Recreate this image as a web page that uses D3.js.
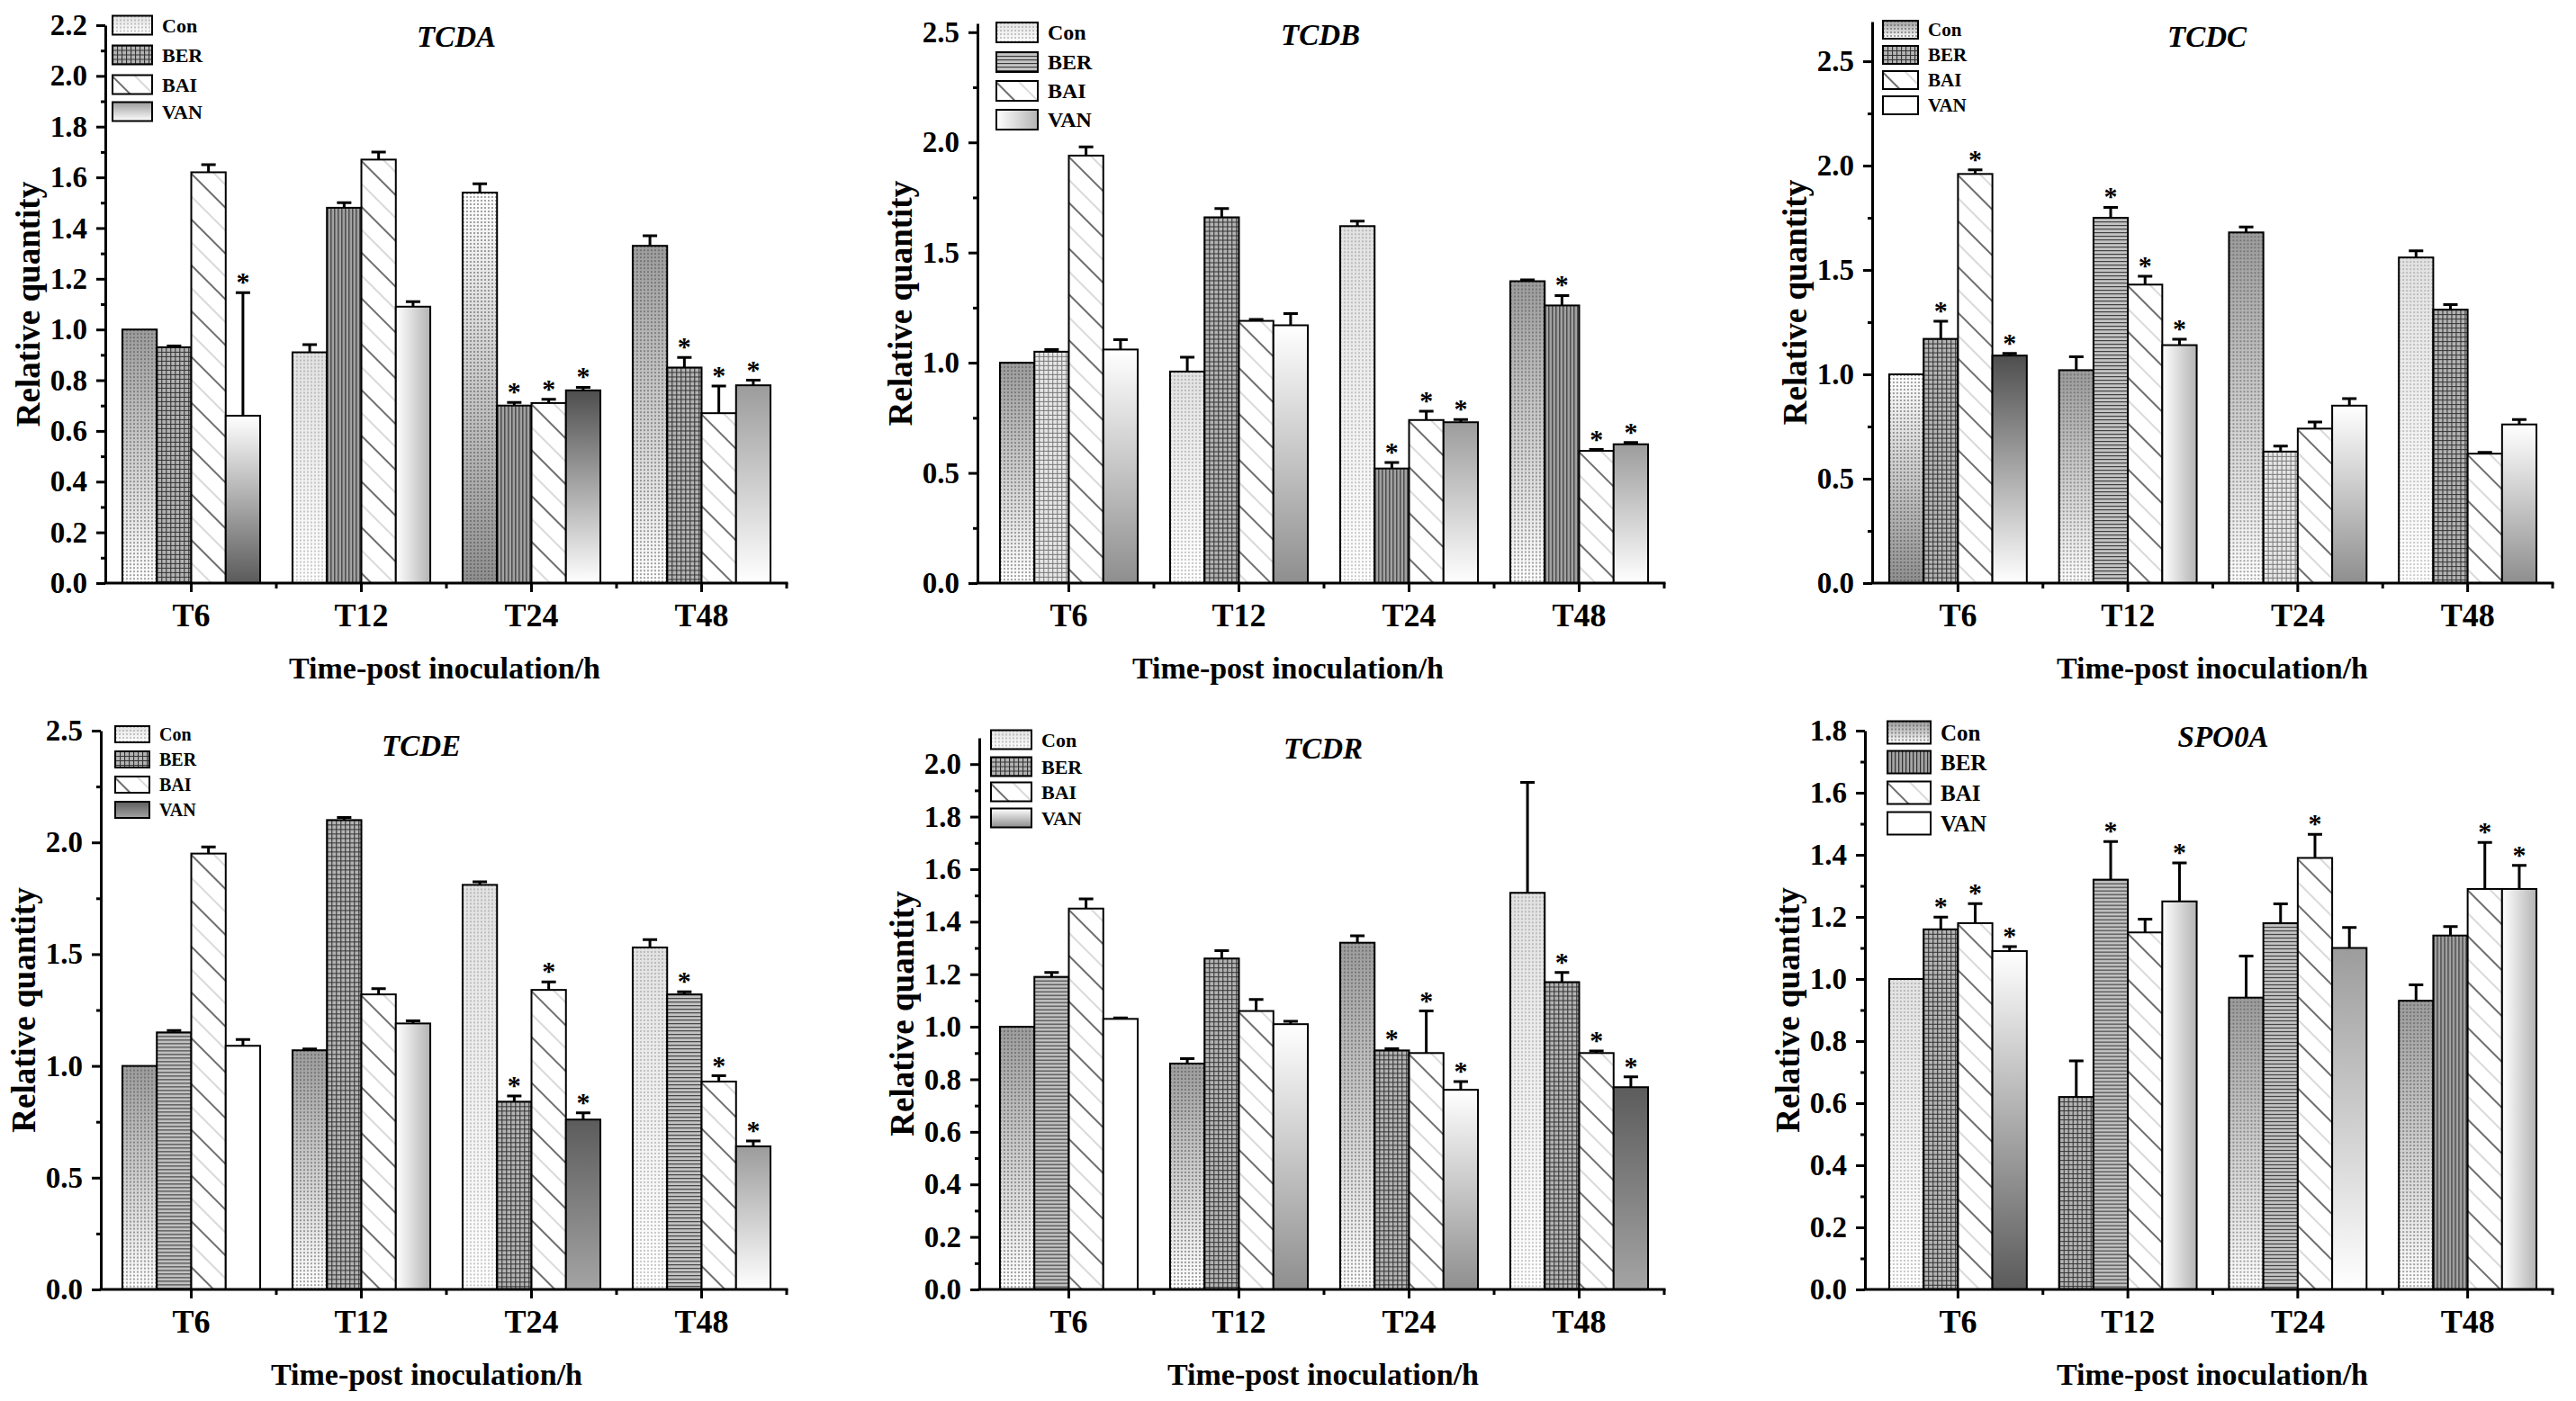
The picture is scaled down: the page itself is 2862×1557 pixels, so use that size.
<!DOCTYPE html>
<html>
<head>
<meta charset="utf-8">
<script src="https://cdn.jsdelivr.net/npm/d3@7"></script>
<style>
body { margin: 0; background: #fff; }
svg text { font-family: "Liberation Serif", "Times New Roman", serif; font-weight: bold; fill: #000; }
</style>
</head>
<body>
<svg id="fig" width="2862" height="1557"></svg>
<script>
var times = ["T6", "T12", "T24", "T48"];
var groups = ["Con", "BER", "BAI", "VAN"];
var genes = ["TCDA", "TCDB", "TCDC", "TCDE", "TCDR", "SPO0A"];

// rows = time points, columns = Con, BER, BAI, VAN
var tcdaMean = [[1.00, 0.93, 1.62, 0.66], [0.91, 1.48, 1.67, 1.09], [1.54, 0.70, 0.71, 0.76], [1.33, 0.85, 0.67, 0.78]];
var tcdaErr  = [[0, 0.005, 0.03, 0.485], [0.03, 0.02, 0.03, 0.02], [0.035, 0.012, 0.015, 0.012], [0.04, 0.04, 0.107, 0.02]];
var tcdaStar = [[0, 0, 0, 1], [0, 0, 0, 0], [0, 1, 1, 1], [0, 1, 1, 1]];

var tcdbMean = [[1.00, 1.05, 1.94, 1.06], [0.96, 1.66, 1.19, 1.17], [1.62, 0.52, 0.74, 0.73], [1.37, 1.26, 0.60, 0.63]];
var tcdbErr  = [[0, 0.01, 0.04, 0.045], [0.065, 0.04, 0.006, 0.053], [0.023, 0.027, 0.04, 0.012], [0.006, 0.045, 0.006, 0.008]];
var tcdbStar = [[0, 0, 0, 0], [0, 0, 0, 0], [0, 1, 1, 1], [0, 1, 1, 1]];

var tcdcMean = [[1.00, 1.17, 1.96, 1.09], [1.02, 1.75, 1.43, 1.14], [1.68, 0.63, 0.74, 0.85], [1.56, 1.31, 0.62, 0.76]];
var tcdcErr  = [[0, 0.085, 0.02, 0.01], [0.064, 0.05, 0.04, 0.028], [0.026, 0.026, 0.032, 0.034], [0.032, 0.024, 0.006, 0.024]];
var tcdcStar = [[0, 1, 1, 1], [0, 1, 1, 1], [0, 0, 0, 0], [0, 0, 0, 0]];

var tcdeMean = [[1.00, 1.15, 1.95, 1.09], [1.07, 2.10, 1.32, 1.19], [1.81, 0.84, 1.34, 0.76], [1.53, 1.32, 0.93, 0.64]];
var tcdeErr  = [[0, 0.008, 0.03, 0.028], [0.006, 0.012, 0.026, 0.012], [0.014, 0.026, 0.036, 0.03], [0.035, 0.012, 0.026, 0.024]];
var tcdeStar = [[0, 0, 0, 0], [0, 0, 0, 0], [0, 1, 1, 1], [0, 1, 1, 1]];

var tcdrMean = [[1.00, 1.19, 1.45, 1.03], [0.86, 1.26, 1.06, 1.01], [1.32, 0.91, 0.90, 0.76], [1.51, 1.17, 0.90, 0.77]];
var tcdrErr  = [[0, 0.017, 0.037, 0.004], [0.019, 0.03, 0.044, 0.011], [0.026, 0.006, 0.16, 0.031], [0.42, 0.037, 0.008, 0.039]];
var tcdrStar = [[0, 0, 0, 0], [0, 0, 0, 0], [0, 1, 1, 1], [0, 1, 1, 1]];

var spo0aMean = [[1.00, 1.16, 1.18, 1.09], [0.62, 1.32, 1.15, 1.25], [0.94, 1.18, 1.39, 1.10], [0.93, 1.14, 1.29, 1.29]];
var spo0aErr  = [[0, 0.039, 0.063, 0.014], [0.116, 0.123, 0.043, 0.124], [0.134, 0.062, 0.076, 0.066], [0.051, 0.029, 0.15, 0.076]];
var spo0aStar = [[0, 1, 1, 1], [0, 1, 0, 1], [0, 0, 1, 0], [0, 0, 1, 1]];

var tcdaTicks = [0, 0.2, 0.4, 0.6, 0.8, 1.0, 1.2, 1.4, 1.6, 1.8, 2.0, 2.2];
var halfTicks = [0, 0.5, 1.0, 1.5, 2.0, 2.5];
var tcdrTicks = [0, 0.2, 0.4, 0.6, 0.8, 1.0, 1.2, 1.4, 1.6, 1.8, 2.0];
var spo0aTicks = [0, 0.2, 0.4, 0.6, 0.8, 1.0, 1.2, 1.4, 1.6, 1.8];

var means = [tcdaMean, tcdbMean, tcdcMean, tcdeMean, tcdrMean, spo0aMean];
var errs = [tcdaErr, tcdbErr, tcdcErr, tcdeErr, tcdrErr, spo0aErr];
var stars = [tcdaStar, tcdbStar, tcdcStar, tcdeStar, tcdrStar, spo0aStar];
var ticks = [tcdaTicks, halfTicks, halfTicks, halfTicks, tcdrTicks, spo0aTicks];
var yMax = [2.2, 2.54, 2.69, 2.5, 2.1, 1.8];

// page layout of each panel (pixels)
var layout = [
    {axisX: 117,  band: [118, 874],   zero: 648,  top: 28,  title: [507, 52],   xTitle: 494,  legend: {x: 125,  w: 44, h: 21, rows: [28, 61, 94, 124],     fs: 22}},
    {axisX: 1086, band: [1093, 1849], zero: 648,  top: 26,  title: [1467, 50],  xTitle: 1431, legend: {x: 1107, w: 46, h: 22, rows: [36, 69, 101, 133],    fs: 24}},
    {axisX: 2080, band: [2081, 2836], zero: 648,  top: 24,  title: [2452, 52],  xTitle: 2458, legend: {x: 2092, w: 39, h: 20, rows: [33, 61, 89, 117],     fs: 21}},
    {axisX: 112,  band: [118, 874],   zero: 1433, top: 812, title: [468, 840],  xTitle: 474,  legend: {x: 128,  w: 38, h: 18, rows: [816, 844, 872, 900],  fs: 20}},
    {axisX: 1088, band: [1093, 1849], zero: 1433, top: 820, title: [1470, 843], xTitle: 1470, legend: {x: 1101, w: 45, h: 21, rows: [822, 852, 880, 909],  fs: 22}},
    {axisX: 2072, band: [2081, 2836], zero: 1433, top: 812, title: [2470, 830], xTitle: 2458, legend: {x: 2097, w: 48, h: 25, rows: [814, 847, 881, 915],  fs: 25}}
];

// fill of every bar (rows = time points) and of the legend swatches
var barFills = [
    [["dotsG", "gridD", "hatch", "gradDownDark"], ["dotsL", "vlines", "hatch", "gradH"], ["dotsUp", "vlines", "hatch", "gradDark"], ["dotsG", "gridD", "hatch", "gradUp"]],
    [["dotsG", "gridL", "hatch", "gradDown"], ["dotsL", "gridD", "hatch", "gradDown"], ["dotsL", "vlines", "hatch", "gradUp"], ["dotsG", "vlines", "hatch", "gradUp"]],
    [["dotsUp", "gridD", "hatch", "gradDark"], ["dotsG", "hlines", "hatch", "gradH"], ["dotsG", "gridL", "hatch", "gradDown"], ["dotsL", "gridD", "hatch", "gradDown"]],
    [["dotsG", "hlines", "hatch", "white"], ["dotsG", "gridD", "hatch", "gradH"], ["dotsL", "gridD", "hatch", "darkGrad"], ["dotsL", "hlines", "hatch", "gradUp"]],
    [["dotsG", "hlines", "hatch", "white"], ["dotsG", "gridD", "hatch", "gradDown"], ["dotsG", "gridD", "hatch", "gradDown"], ["dotsL", "gridD", "hatch", "darkGrad"]],
    [["dotsL", "gridD", "hatch", "gradDownDark"], ["gridD", "hlines", "hatch", "gradH"], ["dotsG", "hlines", "hatch", "gradUp"], ["dotsG", "vlines", "hatch", "gradH"]]
];
var legendFills = [
    ["dotsL", "gridD", "hatch", "gradUp"],
    ["dotsL", "hlines", "hatch", "gradH"],
    ["dotsG", "gridD", "hatch", "white"],
    ["dotsL", "gridD", "hatch", "darkGrad"],
    ["dotsL", "gridD", "hatch", "gradDown"],
    ["dotsG", "vlines", "hatch", "white"]
];

var svg = d3.select("#fig");
svg.append("rect").attr("width", 2862).attr("height", 1557).attr("fill", "#fff");
var defs = svg.append("defs");

function addGrad(id, from, to, horizontal) {
    var gr = defs.append("linearGradient").attr("id", id)
        .attr("x1", 0).attr("y1", 0)
        .attr("x2", horizontal ? 1 : 0).attr("y2", horizontal ? 0 : 1);
    gr.append("stop").attr("offset", "0%").attr("stop-color", from);
    gr.append("stop").attr("offset", "100%").attr("stop-color", to);
}
addGrad("gUp", "#9c9c9c", "#ffffff");
addGrad("gDown", "#ffffff", "#8e8e8e");
addGrad("gDownDark", "#ffffff", "#5a5a5a");
addGrad("gDark", "#4e4e4e", "#ffffff");
addGrad("gDarkAll", "#5c5c5c", "#a4a4a4");
addGrad("gH", "#ffffff", "#b4b4b4", true);
addGrad("gLight", "#e2e2e2", "#ffffff");

function addPattern(id, w, h, transform) {
    var p = defs.append("pattern").attr("id", id)
        .attr("patternUnits", "userSpaceOnUse")
        .attr("width", w).attr("height", h);
    if (transform) p.attr("patternTransform", transform);
    return p;
}
addPattern("pDots", 4, 4).append("rect").attr("width", 2).attr("height", 2).attr("fill", "#4a4a4a").attr("opacity", 0.5);
addPattern("pDotsL", 4, 4).append("rect").attr("width", 2).attr("height", 2).attr("fill", "#8a8a8a").attr("opacity", 0.45);
addPattern("pGrid", 5, 5).append("path").attr("d", "M0,0.5H5M0.5,0V5").attr("stroke", "#333").attr("stroke-width", 1.2);
addPattern("pGridL", 5, 5).append("path").attr("d", "M0,0.5H5M0.5,0V5").attr("stroke", "#777").attr("stroke-width", 1);
addPattern("pHLines", 4, 4).append("path").attr("d", "M0,0.5H4").attr("stroke", "#3a3a3a").attr("stroke-width", 1.3);
addPattern("pVLines", 4, 4).append("path").attr("d", "M0.5,0V4").attr("stroke", "#333").attr("stroke-width", 1.5);
var hatch = addPattern("pHatch", 60, 36, "rotate(45)");
hatch.append("path").attr("d", "M0,1H60").attr("stroke", "#6e6e6e").attr("stroke-width", 1.8);
hatch.append("path").attr("d", "M0,19H60").attr("stroke", "#cccccc").attr("stroke-width", 1.4);

// base fill + optional texture on top
var fillStyles = {
    dotsL: ["url(#gLight)", "url(#pDotsL)"],
    dotsG: ["url(#gUp)", "url(#pDots)"],
    dotsUp: ["url(#gDown)", "url(#pDots)"],
    gridD: ["#b4b4b4", "url(#pGrid)"],
    gridL: ["#e6e6e6", "url(#pGridL)"],
    hlines: ["#c4c4c4", "url(#pHLines)"],
    vlines: ["#a4a4a4", "url(#pVLines)"],
    hatch: ["#ffffff", "url(#pHatch)"],
    gradDown: ["url(#gDown)", null],
    gradDownDark: ["url(#gDownDark)", null],
    gradUp: ["url(#gUp)", null],
    gradDark: ["url(#gDark)", null],
    gradH: ["url(#gH)", null],
    darkGrad: ["url(#gDarkAll)", null],
    white: ["#ffffff", null]
};

function paintBox(sel, w, h, styleKey) {
    sel.append("rect").attr("width", w).attr("height", h).attr("fill", d => fillStyles[styleKey(d)][0]);
    sel.filter(d => fillStyles[styleKey(d)][1])
        .append("rect").attr("width", w).attr("height", h).attr("fill", d => fillStyles[styleKey(d)][1]);
    sel.append("rect").attr("width", w).attr("height", h)
        .attr("fill", "none").attr("stroke", "#000").attr("stroke-width", 2);
}

function drawPanel(i) {
    var p = layout[i];
    var g = svg.append("g").attr("class", "panel");

    var y = d3.scaleLinear().domain([0, yMax[i]]).range([p.zero, p.top]);
    var x = d3.scaleBand().domain(times).range(p.band);
    var gw = x.bandwidth() * 0.81;
    var xi = d3.scaleBand().domain(groups).range([0, gw]);

    var cells = [];
    times.forEach(function(t, ti) {
        groups.forEach(function(s, si) {
            cells.push({t: t, s: s, mean: means[i][ti][si], err: errs[i][ti][si],
                star: stars[i][ti][si], fill: barFills[i][ti][si]});
        });
    });

    var bars = g.append("g").selectAll("g").data(cells).join("g")
        .attr("transform", d => "translate(" + (x(d.t) + (x.bandwidth() - gw) / 2 + xi(d.s)) + "," + y(d.mean) + ")");
    bars.each(function(d) {
        paintBox(d3.select(this), xi.bandwidth(), y(0) - y(d.mean), e => e.fill);
    });

    // upper error bars
    var bw = xi.bandwidth();
    bars.filter(d => d.err > 0).append("path")
        .attr("d", d => "M" + bw / 2 + ",0V" + (y(d.mean + d.err) - y(d.mean)) +
            "M" + (bw / 2 - 8) + "," + (y(d.mean + d.err) - y(d.mean)) + "H" + (bw / 2 + 8))
        .attr("fill", "none").attr("stroke", "#000").attr("stroke-width", 3);

    bars.filter(d => d.star).append("text")
        .attr("x", bw / 2)
        .attr("y", d => y(d.mean + d.err) - y(d.mean) - 2)
        .attr("text-anchor", "middle")
        .style("font-size", "30px")
        .text("*");

    // y axis with one minor tick between labels
    var yAxis = g.append("g").attr("transform", "translate(" + p.axisX + ",0)")
        .call(d3.axisLeft(y).tickValues(ticks[i]).tickFormat(d3.format(".1f"))
            .tickSize(10).tickPadding(10).tickSizeOuter(0));
    var step = ticks[i][1] - ticks[i][0];
    var minor = ticks[i].map(v => v + step / 2).filter(v => v < yMax[i]);
    g.append("g").attr("transform", "translate(" + p.axisX + ",0)")
        .call(d3.axisLeft(y).tickValues(minor).tickFormat("").tickSize(5).tickSizeOuter(0))
        .call(a => a.select(".domain").remove())
        .selectAll("line").attr("stroke-width", 3);
    yAxis.select(".domain").attr("stroke-width", 3);
    yAxis.selectAll("line").attr("stroke-width", 3);
    yAxis.selectAll("text").style("font-size", "33px").attr("fill", "#000");

    // x axis
    g.append("line")
        .attr("x1", p.axisX).attr("x2", p.band[1])
        .attr("y1", p.zero).attr("y2", p.zero)
        .attr("stroke", "#000").attr("stroke-width", 3).attr("stroke-linecap", "square");
    var xAxis = g.append("g").attr("transform", "translate(0," + p.zero + ")")
        .call(d3.axisBottom(x).tickSize(10).tickPadding(12));
    xAxis.select(".domain").remove();
    xAxis.selectAll("line").attr("stroke-width", 3);
    xAxis.selectAll("text").style("font-size", "36px").attr("fill", "#000");
    g.append("g").selectAll("line").data(d3.range(1, 5)).join("line")
        .attr("x1", k => p.band[0] + k * x.step()).attr("x2", k => p.band[0] + k * x.step())
        .attr("y1", p.zero).attr("y2", p.zero + 6)
        .attr("stroke", "#000").attr("stroke-width", 3);

    g.append("text")
        .attr("x", p.xTitle).attr("y", p.zero + 106)
        .attr("text-anchor", "middle")
        .style("font-size", "34px")
        .text("Time-post inoculation/h");

    g.append("text")
        .attr("transform", "translate(" + (p.axisX - 86) + "," + (p.top + p.zero) / 2 + ") rotate(-90)")
        .attr("dy", "0.35em")
        .attr("text-anchor", "middle")
        .style("font-size", "37px")
        .text("Relative quantity");

    g.append("text")
        .attr("x", p.title[0]).attr("y", p.title[1])
        .attr("text-anchor", "middle")
        .style("font-size", "33px")
        .style("font-style", "italic")
        .text(genes[i]);

    // legend
    var L = p.legend;
    var items = g.append("g").selectAll("g").data(groups).join("g")
        .attr("transform", (d, k) => "translate(" + L.x + "," + (L.rows[k] - L.h / 2) + ")");
    items.each(function(d, k) {
        paintBox(d3.select(this), L.w, L.h, () => legendFills[i][k]);
    });
    items.append("text")
        .attr("x", L.w + 11).attr("y", L.h / 2)
        .attr("dy", "0.35em")
        .style("font-size", L.fs + "px")
        .text(d => d);
}

genes.forEach(function(gene, i) { drawPanel(i); });
</script>
</body>
</html>
